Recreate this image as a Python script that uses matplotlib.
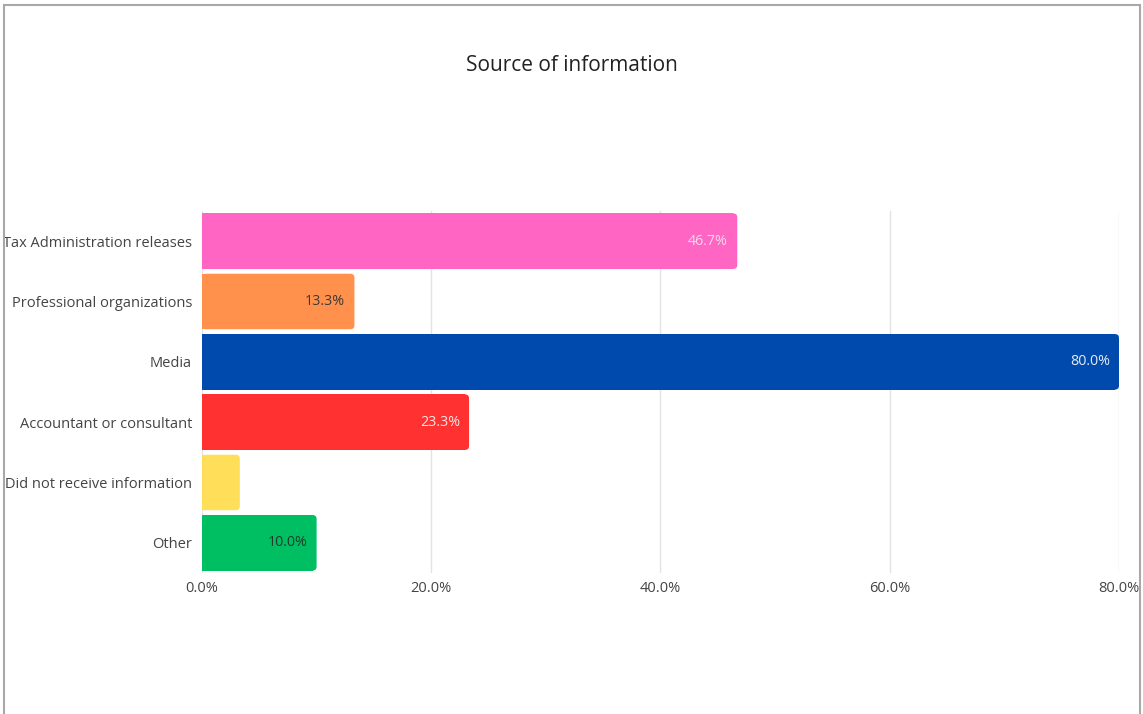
import matplotlib.pyplot as plt
from matplotlib.patches import FancyBboxPatch, Rectangle
from matplotlib.ticker import FuncFormatter

plt.rcParams['font.family'] = ['Open Sans', 'DejaVu Sans']

# survey answers, percent of respondents
categories = ['Tax Administration releases', 'Professional organizations', 'Media',
              'Accountant or consultant', 'Did not receive information', 'Other']
shares = [46.7, 13.3, 80.0, 23.3, 3.3, 10.0]
show_label = [True, True, True, True, False, True]

colors = ['#FF66C4', '#FF914D', '#004AAD', '#FF3131', '#FFDE59', '#00BF63']
label_colors = ['#f7d6ea', '#3a3a3a', '#e6ecf7', '#fde3e3', '#3a3a3a', '#1f3d2a']

fig = plt.figure(figsize=(11.43, 7.14), dpi=100)
ax = fig.add_axes([0.1767, 0.1975, 0.8023, 0.507])

ypos = list(range(len(categories)))
bars = ax.barh(ypos, shares, height=0.92, color=colors, zorder=2)

ax.set_xlim(0, 80)
ax.set_ylim(len(categories) - 0.5, -0.5)

# round off the right end of every bar
r = 0.35
aspect = (1 / 60.5) / (1 / 11.46)
for b, c in zip(bars, colors):
    x0, y0, w, h = b.get_x(), b.get_y(), b.get_width(), b.get_height()
    b.set_width(max(w - r, 0))
    ax.add_patch(FancyBboxPatch((x0, y0), w, h,
                                boxstyle=f'round,pad=0,rounding_size={r}',
                                mutation_aspect=aspect, fc=c, ec='none', zorder=2))

for y, v, show, lc in zip(ypos, shares, show_label, label_colors):
    if show:
        ax.text(v - 0.8, y, f'{v:.1f}%', ha='right', va='center',
                fontsize=10.3, color=lc, zorder=3)

ax.set_xticks([0, 20, 40, 60, 80])
ax.xaxis.set_major_formatter(FuncFormatter(lambda v, p: f'{v:.1f}%'))
ax.set_yticks(ypos)
ax.set_yticklabels(categories)
ax.tick_params(axis='both', length=0, labelsize=10.5, colors='#444444')
ax.tick_params(axis='y', pad=7)
ax.tick_params(axis='x', pad=6)
ax.grid(axis='x', color='#e3e3e3', linewidth=1, zorder=0)
ax.set_axisbelow(True)
for s in ax.spines.values():
    s.set_visible(False)

fig.text(0.5, 0.908, 'Source of information', ha='center', va='center',
         fontsize=15, color='#222222')

# frame around the whole card
fig.patches.append(Rectangle((0.0035, -0.05), 0.994, 1.043, transform=fig.transFigure,
                             fill=False, ec='#a8a8a8', lw=1.5))

fig.savefig('out.png', dpi=100, facecolor='white')
